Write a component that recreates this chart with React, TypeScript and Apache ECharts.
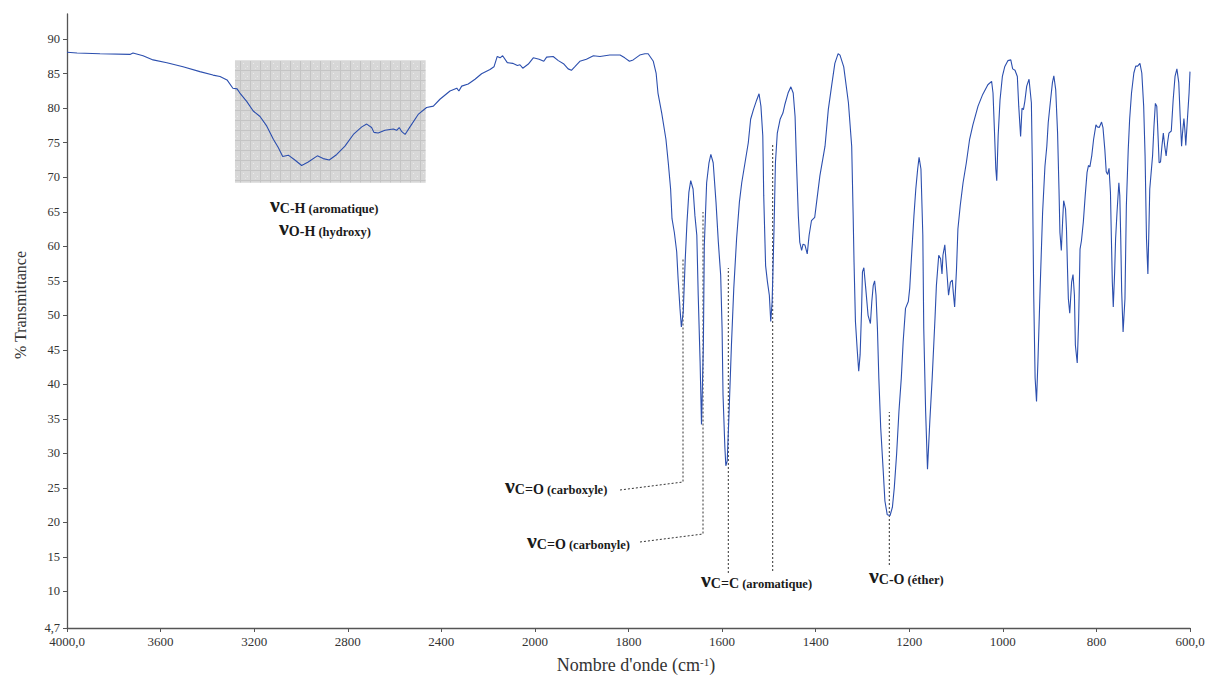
import React, { useEffect, useRef } from "react";
import * as echarts from "echarts";

// ---- Data (wavenumber cm-1, % transmittance) ----
const highFrequencyRegion: [number, number][] = [
  [4000, 88.1], [3957, 88.0], [3859, 87.9], [3731, 87.8], [3718, 88.0], [3675, 87.6], [3632, 87.0], [3573, 86.6],
  [3504, 86.0], [3432, 85.3], [3376, 84.8], [3346, 84.6], [3316, 84.1], [3291, 82.9], [3273, 82.8], [3261, 82.2],
  [3232, 81.0], [3204, 79.6], [3175, 78.8], [3146, 77.4], [3118, 75.5], [3097, 74.3], [3078, 73.0], [3054, 73.2],
  [3026, 72.5], [2997, 71.7], [2969, 72.2], [2930, 73.1], [2905, 72.7], [2879, 72.5], [2847, 73.3], [2812, 74.5],
  [2776, 76.2], [2740, 77.3], [2719, 77.7], [2698, 77.2], [2688, 76.5], [2670, 76.4], [2641, 76.8], [2605, 77.0],
  [2591, 76.8], [2580, 77.2], [2569, 76.6], [2555, 76.2], [2534, 77.3], [2499, 79.1], [2463, 80.1], [2434, 80.3],
  [2406, 81.3], [2363, 82.5], [2334, 82.9], [2325, 82.5], [2313, 83.2], [2285, 83.5], [2256, 84.2], [2228, 85.0],
  [2192, 85.6], [2175, 86.0], [2161, 87.5], [2149, 87.3], [2138, 87.6], [2118, 86.6], [2095, 86.5], [2075, 86.2],
  [2064, 86.3], [2052, 85.8], [2028, 86.4], [2007, 87.3],
];

const doubleBondRegion: [number, number][] = [
  [1991, 87.1], [1981, 86.8], [1975, 87.4], [1961, 87.5], [1950, 86.9], [1938, 86.4], [1929, 85.7], [1922, 85.5],
  [1915, 86.0], [1904, 86.8], [1890, 87.1], [1875, 87.6], [1861, 87.5], [1840, 87.7], [1818, 87.7], [1808, 87.3],
  [1798, 86.8], [1790, 87.0], [1776, 87.7], [1765, 87.9], [1758, 87.9], [1747, 86.8], [1741, 85.1], [1737, 82.2],
  [1729, 79.3], [1720, 75.5], [1715, 72.1], [1710, 68.3], [1707, 64.0], [1702, 62.0], [1697, 59.2], [1694, 55.3],
  [1690, 51.0], [1687, 48.3], [1683, 50.5], [1679, 57.7], [1675, 63.5], [1671, 67.8], [1667, 69.5], [1662, 68.3],
  [1658, 64.4], [1654, 61.6], [1651, 52.9], [1647, 43.3], [1644, 34.2], [1640, 45.7], [1638, 60.1], [1633, 69.2],
  [1628, 72.1], [1624, 73.3], [1619, 72.1], [1613, 66.4], [1608, 60.6], [1605, 57.7], [1603, 55.8], [1600, 48.1],
  [1598, 38.5], [1594, 30.8], [1592, 28.2], [1589, 28.9], [1585, 36.1], [1580, 45.7], [1575, 53.9], [1569, 61.1],
  [1563, 66.4], [1558, 69.2], [1551, 72.1], [1544, 75.0], [1539, 78.4], [1533, 79.8], [1526, 81.2], [1521, 82.1],
  [1517, 80.3], [1513, 76.0], [1511, 67.3], [1507, 57.2], [1503, 54.8], [1499, 52.9], [1496, 49.1], [1493, 52.0],
  [1489, 62.5], [1486, 72.1], [1482, 76.4], [1476, 78.4], [1470, 79.3], [1466, 80.5], [1459, 82.2], [1453, 83.1],
  [1448, 82.2], [1444, 78.8], [1441, 72.1], [1437, 64.4], [1434, 60.6], [1430, 59.4], [1427, 60.3], [1423, 60.2],
  [1418, 58.9], [1414, 61.6], [1409, 63.7], [1402, 64.2], [1398, 66.4], [1391, 70.2], [1380, 74.5], [1373, 79.8],
  [1366, 83.2], [1359, 86.5], [1352, 87.9], [1348, 87.7],
];

const fingerprintRegion: [number, number][] = [
  [1340, 86.0], [1330, 80.8], [1323, 74.5], [1320, 64.9], [1318, 57.7], [1315, 49.1], [1311, 44.8], [1308, 41.9],
  [1305, 44.3], [1302, 50.5], [1300, 56.3], [1297, 56.9], [1293, 53.9], [1288, 50.0], [1283, 48.8], [1280, 52.0],
  [1277, 54.3], [1274, 55.0], [1271, 52.9], [1268, 48.1], [1265, 40.9], [1261, 33.7], [1256, 27.9], [1252, 23.1],
  [1247, 21.1], [1241, 21.0], [1236, 22.2], [1232, 25.0], [1227, 29.9], [1222, 36.1], [1217, 40.9], [1213, 46.2],
  [1208, 51.0], [1202, 52.0], [1199, 53.9], [1195, 58.7], [1190, 64.4], [1186, 68.3], [1182, 71.2], [1179, 72.9],
  [1175, 71.2], [1171, 61.6], [1169, 48.1], [1165, 36.1], [1161, 27.7], [1156, 34.7], [1151, 40.9], [1145, 49.5],
  [1142, 54.3], [1137, 58.7], [1133, 58.2], [1130, 56.0], [1128, 58.7], [1124, 60.2], [1120, 56.7], [1116, 52.9],
  [1112, 54.8], [1108, 55.1], [1106, 53.4], [1103, 51.2], [1099, 56.7], [1096, 62.5], [1091, 65.9], [1085, 69.2],
  [1078, 72.1], [1071, 75.5], [1064, 77.6], [1053, 80.3], [1043, 82.0], [1032, 83.4], [1024, 83.9], [1021, 82.2],
  [1018, 76.9], [1015, 71.2], [1013, 69.5], [1010, 76.0], [1006, 81.2], [1001, 84.6], [996, 86.0], [989, 86.9],
  [983, 87.0], [979, 85.7], [974, 85.5], [969, 84.6], [966, 80.3], [962, 75.9], [959, 80.0], [956, 79.8],
  [953, 81.0], [949, 83.2], [944, 84.2], [939, 80.8], [937, 72.1], [934, 52.9], [931, 40.9], [928, 37.5],
  [925, 43.3], [920, 54.5], [915, 64.9], [910, 71.6], [906, 74.5], [903, 77.9], [898, 81.2], [894, 83.7], [891, 84.7],
];

const lowFrequencyRegion: [number, number][] = [
  [887, 82.7], [883, 76.4], [880, 68.3], [878, 62.0], [875, 59.4], [872, 64.0], [870, 66.6], [866, 65.4],
  [864, 62.5], [862, 57.2], [860, 52.4], [857, 50.3], [853, 54.8], [850, 55.9], [847, 52.9], [845, 45.7],
  [841, 43.1], [838, 49.1], [835, 59.6], [832, 60.8], [828, 63.5], [824, 67.3], [820, 70.7], [817, 71.7],
  [814, 71.5], [810, 73.1], [806, 75.5], [801, 77.6], [798, 77.3], [794, 77.2], [789, 78.0], [786, 77.2],
  [782, 74.0], [779, 70.8], [776, 70.4], [773, 71.3], [770, 67.8], [768, 61.1], [766, 54.8], [764, 51.2],
  [761, 56.3], [759, 61.1], [756, 64.9], [752, 69.2], [750, 67.3], [748, 61.1], [746, 53.4], [743, 47.6],
  [739, 52.4], [736, 65.9], [732, 74.0], [729, 78.4], [725, 82.2], [720, 85.1], [716, 86.1], [712, 86.1],
  [707, 86.5], [703, 85.1], [699, 80.3], [696, 73.1], [693, 61.1], [690, 56.0], [688, 62.0], [686, 68.3],
  [683, 70.7], [680, 73.1], [677, 77.4], [674, 80.7], [671, 80.3], [668, 75.5], [666, 72.1], [663, 72.2],
  [660, 74.5], [657, 76.4], [654, 74.5], [651, 73.1], [648, 75.0], [645, 76.4], [640, 76.7], [636, 81.2],
  [632, 84.6], [628, 85.7], [624, 83.7], [621, 78.8], [618, 74.5], [616, 76.4], [613, 78.5], [611, 76.9],
  [609, 74.6], [606, 77.9], [602, 82.2], [600, 85.3],
];

const xTickLabels = ["4000,0", "3600", "3200", "2800", "2400", "2000", "1800", "1600", "1400", "1200", "1000", "800", "600,0"];
const yTickValues = [4.7, 10, 15, 20, 25, 30, 35, 40, 45, 50, 55, 60, 65, 70, 75, 80, 85, 90];
const yMin = 4.7;
const yMax = 93.65;

// Highlighted O-H / C-H stretching zone (wavenumber range, transmittance range)
const highlightWavenumbers = [3282, 2467];
const highlightTransmittance = [86.9, 69.2];

// Spectrometer axis: 400 cm-1 per division above 2000, 200 cm-1 per division below
const toAxis = (wn: number) => (wn >= 2000 ? (4000 - wn) / 400 : 5 + (2000 - wn) / 200);

const SERIF = "'Liberation Serif', 'Times New Roman', serif";

const tileSvg =
  '<svg xmlns="http://www.w3.org/2000/svg" width="10" height="10">' +
  '<rect width="10" height="10" fill="#d7d7d7"/>' +
  '<rect x="0" y="0" width="10" height="1" fill="#c4c4c4"/>' +
  '<rect x="0" y="0" width="1" height="10" fill="#c4c4c4"/>' +
  '<rect x="3" y="3" width="1" height="1" fill="#ececec"/>' +
  '<rect x="7" y="6" width="1" height="1" fill="#ececec"/>' +
  '<rect x="5" y="8" width="1" height="1" fill="#e6e6e6"/>' +
  "</svg>";
const tileUrl = "data:image/svg+xml;charset=utf-8," + encodeURIComponent(tileSvg);

const richStyles = {
  v: { fontSize: 22, fontWeight: "bold", fontFamily: SERIF, fill: "#1a1a1a", verticalAlign: "bottom" },
  s: { fontSize: 14, fontWeight: "bold", fontFamily: SERIF, fill: "#1a1a1a", verticalAlign: "bottom" },
  p: { fontSize: 12.5, fontWeight: "bold", fontFamily: SERIF, fill: "#1a1a1a", verticalAlign: "bottom" },
};

function label(x: number, y: number, sub: string, paren: string) {
  return {
    type: "text",
    x,
    y,
    silent: true,
    style: {
      text: `{v|ν}{s|${sub}}{p| ${paren}}`,
      rich: richStyles,
      align: "left",
      verticalAlign: "bottom",
    },
  };
}

function dashed(points: number[][]) {
  return {
    type: "polyline",
    silent: true,
    shape: { points },
    style: { stroke: "#333", lineWidth: 1, lineDash: [2, 2], fill: null },
  };
}

export default function App() {
  const ref = useRef<HTMLDivElement>(null);

  useEffect(() => {
    if (!ref.current) return;
    const chart = echarts.init(ref.current, null, { renderer: "svg" });
    const spectrum = [...highFrequencyRegion, ...doubleBondRegion, ...fingerprintRegion, ...lowFrequencyRegion].map(
      ([wn, t]) => [toAxis(wn), t]
    );

    chart.setOption({
      animation: false,
      grid: { left: 67, right: 18, top: 14, bottom: 48, containLabel: false },
      xAxis: {
        type: "value",
        min: 0,
        max: 12,
        interval: 1,
        axisLine: { show: true, lineStyle: { color: "#555", width: 1.3 } },
        axisTick: { show: true, length: 4, lineStyle: { color: "#555" } },
        axisLabel: {
          formatter: (v: number) => xTickLabels[Math.round(v)] ?? "",
          fontFamily: SERIF,
          fontSize: 13,
          color: "#333",
          margin: 7,
          showMinLabel: true,
          showMaxLabel: true,
        },
        splitLine: { show: false },
        name: "{a|Nombre d'onde (cm}{s|-1}{a|)}",
        nameLocation: "middle",
        nameGap: 28,
        nameTextStyle: {
          padding: [0, 0, 0, 15],
          rich: {
            a: { fontFamily: SERIF, fontSize: 18, color: "#333" },
            s: { fontFamily: SERIF, fontSize: 11, color: "#333", verticalAlign: "top" },
          },
        },
      },
      yAxis: {
        type: "value",
        min: yMin,
        max: yMax,
        axisLine: { show: true, lineStyle: { color: "#555", width: 1.3 } },
        axisTick: { show: true, length: 4, customValues: yTickValues, lineStyle: { color: "#555" } },
        axisLabel: {
          customValues: yTickValues,
          formatter: (v: number) => (Math.abs(v - 4.7) < 1e-6 ? "4,7" : String(v)),
          fontFamily: SERIF,
          fontSize: 12.5,
          color: "#333",
          margin: 7,
        },
        splitLine: { show: false },
        name: "% Transmittance",
        nameLocation: "middle",
        nameGap: 39,
        nameTextStyle: { fontFamily: SERIF, fontSize: 16, color: "#333", padding: [0, 0, 0, 32] },
      },
      series: [
        {
          type: "line",
          data: [],
          z: 1,
          silent: true,
          markArea: {
            silent: true,
            itemStyle: {
              color: { image: tileUrl, repeat: "repeat", imageWidth: 10, imageHeight: 10 },
              opacity: 1,
              borderWidth: 0,
            },
            data: [
              [
                { coord: [toAxis(highlightWavenumbers[0]), highlightTransmittance[0]] },
                { coord: [toAxis(highlightWavenumbers[1]), highlightTransmittance[1]] },
              ],
            ],
          },
        },
        {
          type: "line",
          data: spectrum,
          z: 3,
          symbol: "none",
          showSymbol: false,
          silent: true,
          lineStyle: { color: "#2c4fae", width: 1.1 },
        },
      ],
      graphic: [
        label(270, 215, "C-H", "(aromatique)"),
        label(279, 238, "O-H", "(hydroxy)"),
        label(505, 496, "C=O", "(carboxyle)"),
        label(527, 551, "C=O", "(carbonyle)"),
        label(701, 590, "C=C", "(aromatique)"),
        label(869, 586, "C-O", "(éther)"),
        dashed([[620, 490], [683, 482], [683, 258]]),
        dashed([[640, 542], [703, 534], [703, 212]]),
        dashed([[728.3, 573], [728.3, 268]]),
        dashed([[772.7, 571], [772.7, 145]]),
        dashed([[889.3, 565], [889.3, 412]]),
      ],
    });

    return () => chart.dispose();
  }, []);

  return (
    <div
      ref={ref}
      style={{ position: "absolute", left: 0, top: 0, width: 1208, height: 679, background: "#fff" }}
    />
  );
}
